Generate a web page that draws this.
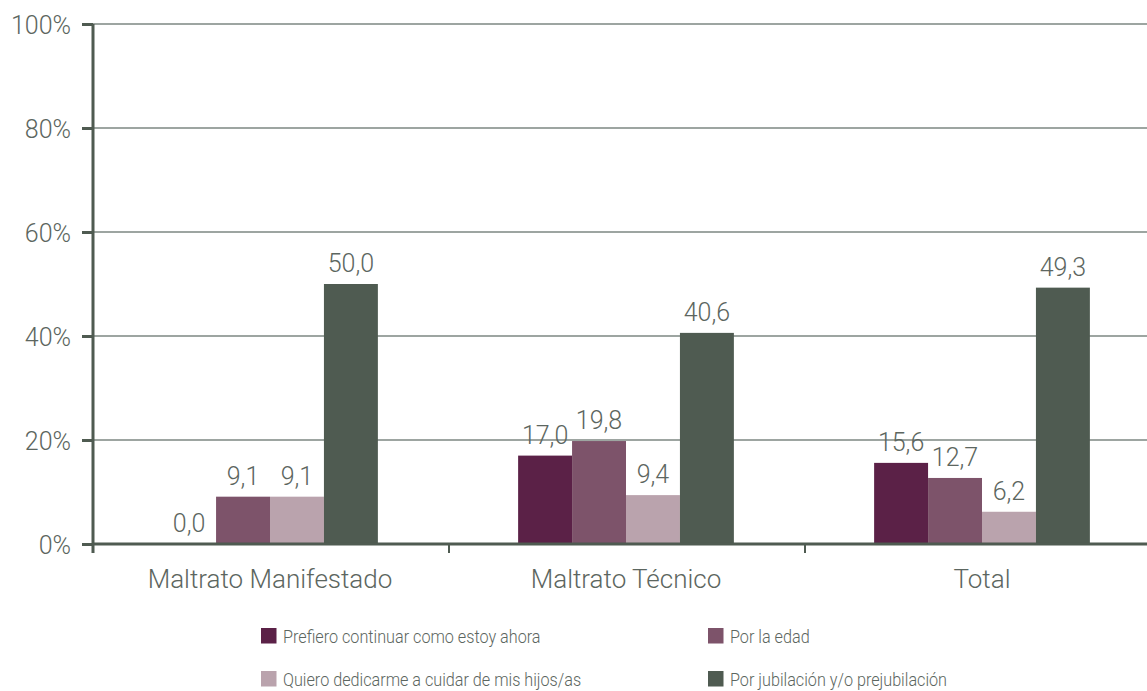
<!DOCTYPE html>
<html>
<head>
<meta charset="utf-8">
<script src="https://cdn.jsdelivr.net/npm/d3@7"></script>
<style>
  body { margin: 0; background: #fff; }
  svg { font-family: Roboto, sans-serif; font-weight: 300; }
</style>
</head>
<body>
<div class="chart"></div>
<script>
const categories = ['Maltrato Manifestado', 'Maltrato Técnico', 'Total'];
const series = [
  'Prefiero continuar como estoy ahora',
  'Por la edad',
  'Quiero dedicarme a cuidar de mis hijos/as',
  'Por jubilación y/o prejubilación',
];
const values = [
  [0.0, 9.1, 9.1, 50.0],
  [17.0, 19.8, 9.4, 40.6],
  [15.6, 12.7, 6.2, 49.3],
];
const yTicks = [0, 20, 40, 60, 80, 100];
const colors = ['#5b2147', '#7d536a', '#baa3ad', '#4f5b51'];

const width = 1147;
const height = 691;
const margin = { top: 24, right: -14, bottom: 147, left: 93 };
const axisColor = '#4f5b51';
const textColor = '#5c6660';

const svg = d3
  .select('.chart')
  .append('svg')
  .attr('width', width)
  .attr('height', height);

const x0 = d3
  .scaleBand()
  .domain(categories)
  .range([margin.left, width - margin.right])
  .padding(0);
const x1 = d3
  .scaleBand()
  .domain(series)
  .range([-1, x0.bandwidth() - 1])
  .paddingInner(0)
  .paddingOuter(1.3);
const y = d3
  .scaleLinear()
  .domain([0, 100])
  .range([height - margin.bottom, margin.top]);

// gridlines
svg
  .append('g')
  .selectAll('line')
  .data(yTicks.filter(d => d > 0))
  .enter()
  .append('line')
  .attr('x1', margin.left)
  .attr('x2', width)
  .attr('y1', d => y(d))
  .attr('y2', d => y(d))
  .attr('stroke', '#7d8782')
  .attr('stroke-width', 1.5);

// bars
const groups = svg
  .append('g')
  .selectAll('g')
  .data(values)
  .enter()
  .append('g')
  .attr('transform', (d, i) => `translate(${x0(categories[i])},0)`);

groups
  .selectAll('rect')
  .data(d => d.map((v, i) => ({ key: series[i], value: v, i })))
  .enter()
  .append('rect')
  .attr('x', d => x1(d.key))
  .attr('y', d => y(d.value))
  .attr('width', x1.bandwidth())
  .attr('height', d => y(0) - y(d.value))
  .attr('fill', d => colors[d.i]);

groups
  .selectAll('text')
  .data(d => d.map((v, i) => ({ key: series[i], value: v, i })))
  .enter()
  .append('text')
  .attr('x', d => x1(d.key) + x1.bandwidth() / 2)
  .attr('y', d => y(d.value) - 12)
  .attr('text-anchor', 'middle')
  .attr('fill', textColor)
  .style('font-size', '25px')
  .text(d => d.value.toFixed(1).replace('.', ','));

// y axis
const yAxis = svg
  .append('g')
  .attr('transform', `translate(${margin.left},0)`)
  .call(
    d3
      .axisLeft(y)
      .tickValues(yTicks)
      .tickSize(11)
      .tickPadding(11)
      .tickFormat(d => d + '%'),
  );
yAxis.select('.domain').remove();
yAxis
  .append('line')
  .attr('y1', margin.top)
  .attr('y2', y(0) + 9)
  .attr('stroke', axisColor)
  .attr('stroke-width', 3);
yAxis.selectAll('.tick line').attr('stroke', axisColor).attr('stroke-width', 3);
yAxis
  .selectAll('.tick text')
  .attr('fill', textColor)
  .attr('dy', '0.36em')
  .style('font-size', '25px')
  .style('font-family', 'Roboto, sans-serif');

// x axis
const xAxis = svg.append('g').attr('transform', `translate(0,${y(0)})`);
xAxis
  .append('line')
  .attr('x1', margin.left)
  .attr('x2', width)
  .attr('stroke', axisColor)
  .attr('stroke-width', 3);
xAxis
  .selectAll('.sep')
  .data(categories.slice(1))
  .enter()
  .append('line')
  .attr('x1', d => x0(d))
  .attr('x2', d => x0(d))
  .attr('y1', 0)
  .attr('y2', 9)
  .attr('stroke', axisColor)
  .attr('stroke-width', 2);
xAxis
  .selectAll('text')
  .data(categories)
  .enter()
  .append('text')
  .attr('x', d => x0(d) + x0.bandwidth() / 2 - 1)
  .attr('y', 44)
  .attr('text-anchor', 'middle')
  .attr('fill', textColor)
  .style('font-size', '26px')
  .text(d => d);

// Legend
const legendPos = [
  [261, 628],
  [708, 628],
  [261, 671],
  [708, 671],
];
const legend = svg
  .append('g')
  .selectAll('g')
  .data(series)
  .enter()
  .append('g')
  .attr('transform', (d, i) => `translate(${legendPos[i][0]},${legendPos[i][1]})`);
legend
  .append('rect')
  .attr('x', 0)
  .attr('y', 0)
  .attr('width', 15.5)
  .attr('height', 15.5)
  .attr('fill', (d, i) => colors[i]);
legend
  .append('text')
  .attr('transform', 'translate(22,15) scale(0.9,1)')
  .attr('fill', textColor)
  .style('font-size', '18px')
  .text(d => d);
</script>
</body>
</html>
